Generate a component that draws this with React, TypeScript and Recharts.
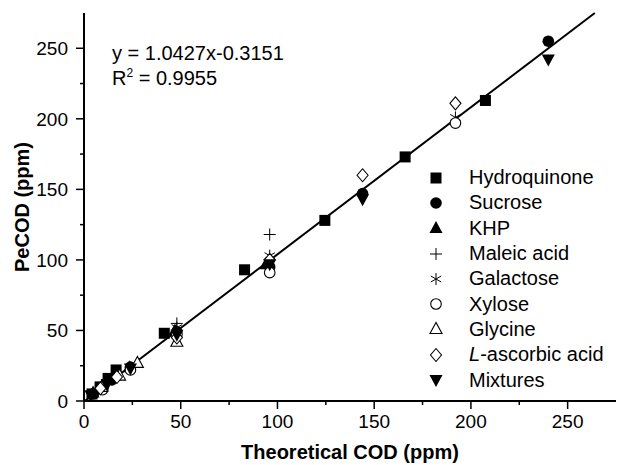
import React from 'react';
import { ScatterChart, Scatter, XAxis, YAxis, ReferenceLine, Legend } from 'recharts';

// Theoretical COD (x) vs PeCOD (y), ppm
const hydroquinone = [
  { x: 4.15, y: 5 }, { x: 8.3, y: 10 }, { x: 12.45, y: 16 }, { x: 16.6, y: 22 },
  { x: 41.5, y: 48 }, { x: 83, y: 93 }, { x: 124.5, y: 128 }, { x: 166, y: 173 }, { x: 207.5, y: 213 },
];
const sucrose = [
  { x: 4.8, y: 5 }, { x: 9.6, y: 9 }, { x: 14.4, y: 15 }, { x: 24, y: 24 },
  { x: 48, y: 49 }, { x: 96, y: 95 }, { x: 144, y: 147 }, { x: 240, y: 255 },
];
const khp = [
  { x: 4.7, y: 6 }, { x: 9.4, y: 11 }, { x: 23.5, y: 24 }, { x: 47, y: 50 }, { x: 94, y: 97 },
];
const maleicAcid = [{ x: 48, y: 55 }, { x: 96, y: 118 }];
const galactose = [{ x: 48, y: 52 }, { x: 96, y: 103 }, { x: 192, y: 201 }];
const xylose = [{ x: 9.6, y: 8 }, { x: 24, y: 22 }, { x: 48, y: 47 }, { x: 96, y: 91 }, { x: 192, y: 197 }];
const glycine = [{ x: 9.2, y: 10 }, { x: 18.4, y: 18 }, { x: 27.6, y: 27 }, { x: 48, y: 42 }];
const ascorbicAcid = [
  { x: 8.5, y: 9 }, { x: 17, y: 17 }, { x: 48, y: 45 }, { x: 96, y: 100 }, { x: 144, y: 160 }, { x: 192, y: 211 },
];
const mixtures = [
  { x: 3.5, y: 4 }, { x: 12, y: 12 }, { x: 24, y: 23 }, { x: 48, y: 47 },
  { x: 96, y: 97 }, { x: 144, y: 143 }, { x: 240, y: 242 },
];

// linear fit
const slope = 1.0427;
const intercept = -0.3151;
const r2 = '0.9955';

const axisMax = 275;
const axisTicks = [0, 25, 50, 75, 100, 125, 150, 175, 200, 225, 250];

const FONT = '"Liberation Sans", Arial, sans-serif';

type Kind = 'square' | 'circle' | 'triangle' | 'plus' | 'star' | 'ocircle' | 'otriangle' | 'odiamond' | 'tridown';

const SERIES: { name: React.ReactNode; key: string; kind: Kind; data: { x: number; y: number }[] }[] = [
  { key: 'hq', name: 'Hydroquinone', kind: 'square', data: hydroquinone },
  { key: 'suc', name: 'Sucrose', kind: 'circle', data: sucrose },
  { key: 'khp', name: 'KHP', kind: 'triangle', data: khp },
  { key: 'mal', name: 'Maleic acid', kind: 'plus', data: maleicAcid },
  { key: 'gal', name: 'Galactose', kind: 'star', data: galactose },
  { key: 'xyl', name: 'Xylose', kind: 'ocircle', data: xylose },
  { key: 'gly', name: 'Glycine', kind: 'otriangle', data: glycine },
  { key: 'asc', name: <><i>L</i>-ascorbic acid</>, kind: 'odiamond', data: ascorbicAcid },
  { key: 'mix', name: 'Mixtures', kind: 'tridown', data: mixtures },
];

const Marker = ({ kind, cx, cy }: { kind: Kind; cx: number; cy: number }) => {
  switch (kind) {
    case 'square':
      return <rect x={cx - 5.5} y={cy - 5.5} width={11} height={11} fill="#000" />;
    case 'circle':
      return <circle cx={cx} cy={cy} r={5.8} fill="#000" />;
    case 'triangle':
      return <polygon points={`${cx},${cy - 7} ${cx - 6.5},${cy + 5} ${cx + 6.5},${cy + 5}`} fill="#000" />;
    case 'tridown':
      return <polygon points={`${cx},${cy + 7} ${cx - 6.5},${cy - 5} ${cx + 6.5},${cy - 5}`} fill="#000" />;
    case 'plus':
      return (
        <g stroke="#000" strokeWidth={1}>
          <line x1={cx - 6} y1={cy} x2={cx + 6} y2={cy} />
          <line x1={cx} y1={cy - 6} x2={cx} y2={cy + 6} />
        </g>
      );
    case 'star':
      return (
        <g stroke="#000" strokeWidth={1}>
          <line x1={cx} y1={cy - 6} x2={cx} y2={cy + 6} />
          <line x1={cx - 5.2} y1={cy - 3} x2={cx + 5.2} y2={cy + 3} />
          <line x1={cx - 5.2} y1={cy + 3} x2={cx + 5.2} y2={cy - 3} />
        </g>
      );
    case 'ocircle':
      return <circle cx={cx} cy={cy} r={5.3} fill="#fff" stroke="#000" strokeWidth={1.1} />;
    case 'otriangle':
      return (
        <polygon points={`${cx},${cy - 6.5} ${cx - 6},${cy + 4.5} ${cx + 6},${cy + 4.5}`}
          fill="#fff" stroke="#000" strokeWidth={1.1} />
      );
    case 'odiamond':
      return (
        <polygon points={`${cx},${cy - 6.5} ${cx + 5.5},${cy} ${cx},${cy + 6.5} ${cx - 5.5},${cy}`}
          fill="#fff" stroke="#000" strokeWidth={1.1} />
      );
  }
  return null;
};

const XTick = (props: any) => {
  const { x, y, payload } = props;
  const major = payload.value % 50 === 0;
  return (
    <g>
      <line x1={x} y1={y} x2={x} y2={y + (major ? 8 : 4)} stroke="#000" strokeWidth={1.5} />
      {major && (
        <text x={x} y={y + 27} textAnchor="middle" fontSize={19} fill="#000" fontFamily={FONT}>
          {payload.value}
        </text>
      )}
    </g>
  );
};

const YTick = (props: any) => {
  const { x, y, payload } = props;
  const major = payload.value % 50 === 0;
  return (
    <g>
      <line x1={x} y1={y} x2={x - (major ? 8 : 4)} y2={y} stroke="#000" strokeWidth={1.5} />
      {major && (
        <text x={x - 16} y={y + 7} textAnchor="end" fontSize={19} fill="#000" fontFamily={FONT}>
          {payload.value}
        </text>
      )}
    </g>
  );
};

const LegendBox = () => (
  <div style={{ fontFamily: FONT, fontSize: 20, color: '#000' }}>
    {SERIES.map((s) => (
      <div key={s.key} style={{ display: 'flex', alignItems: 'center', height: 25.3 }}>
        <svg width={22} height={22} style={{ display: 'block' }}>
          <Marker kind={s.kind} cx={11} cy={11} />
        </svg>
        <span style={{ marginLeft: 22, whiteSpace: 'nowrap' }}>{s.name}</span>
      </div>
    ))}
  </div>
);

const xStart = -intercept / slope;
const xEnd = (axisMax - intercept) / slope;

export default function App() {
  return (
    <div style={{ position: 'absolute', left: 0, top: 0, width: 617, height: 465, background: '#fff', fontFamily: FONT }}>
      <ScatterChart width={617} height={465} margin={{ top: 13, right: 1, bottom: 0, left: 0 }}>
        <XAxis
          dataKey="x"
          type="number"
          domain={[0, axisMax]}
          ticks={axisTicks}
          interval={0}
          height={64}
          tickSize={0}
          tickMargin={0}
          tickLine={false}
          tick={<XTick />}
          axisLine={{ stroke: '#000', strokeWidth: 2 }}
          label={{ value: 'Theoretical COD (ppm)', position: 'insideBottom', offset: 6,
            style: { fontSize: 20, fontWeight: 'bold', fill: '#000', fontFamily: FONT } }}
        />
        <YAxis
          dataKey="y"
          type="number"
          domain={[0, axisMax]}
          ticks={axisTicks}
          interval={0}
          width={84}
          tickSize={0}
          tickMargin={0}
          tickLine={false}
          tick={<YTick />}
          axisLine={{ stroke: '#000', strokeWidth: 2 }}
          label={{ value: 'PeCOD (ppm)', angle: -90, position: 'insideLeft', offset: 22,
            style: { textAnchor: 'middle', fontSize: 20, fontWeight: 'bold', fill: '#000', fontFamily: FONT } }}
        />
        <XAxis xAxisId="top" orientation="top" type="number" domain={[0, axisMax]} height={0}
          tick={false} tickLine={false} axisLine={{ stroke: '#000', strokeWidth: 2 }} />
        <YAxis yAxisId="right" orientation="right" type="number" domain={[0, axisMax]} width={0}
          tick={false} tickLine={false} axisLine={{ stroke: '#000', strokeWidth: 2 }} />
        <ReferenceLine
          segment={[{ x: xStart, y: 0 }, { x: xEnd, y: axisMax }]}
          stroke="#000"
          strokeWidth={2}
          ifOverflow="visible"
        />
        {SERIES.map((s) => (
          <Scatter
            key={s.key}
            name={s.key}
            data={s.data}
            isAnimationActive={false}
            shape={(p: any) => <Marker kind={s.kind} cx={p.cx} cy={p.cy} />}
          />
        ))}
        <Legend
          layout="horizontal"
          verticalAlign="middle"
          align="center"
          content={() => <LegendBox />}
          wrapperStyle={{ left: 425, top: 165, width: 190, height: 230 }}
        />
      </ScatterChart>
      <div style={{ position: 'absolute', left: 112, top: 41, fontSize: 20, lineHeight: '25px', color: '#000' }}>
        <div>y = {slope}x{intercept}</div>
        <div>R<span style={{ fontSize: 12, position: 'relative', top: -8 }}>2</span> = {r2}</div>
      </div>
    </div>
  );
}
